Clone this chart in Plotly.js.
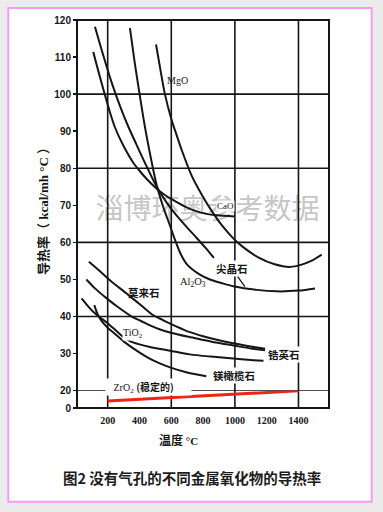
<!DOCTYPE html>
<html><head><meta charset="utf-8">
<script src="https://cdn.plot.ly/plotly-3.0.1.min.js"></script>
<style>html,body{margin:0;padding:0;background:#ebebeb;overflow:hidden}#chart{width:383px;height:512px}</style>
</head><body><div id="chart"></div>
<script>
// ---- data (temperature °C, conductivity kcal/mh°C) ----
const xTickVals = [200, 400, 600, 800, 1000, 1200, 1400];
const yTickVals = [20, 30, 40, 50, 60, 70, 80, 90, 100, 110, 120];
const gridX = [200, 600, 1000, 1400];
const gridY = [20, 40, 60, 80, 100];

const mgoT = [504, 530, 560, 602, 623, 665, 728, 790, 854, 920, 990, 1050, 1150, 1250, 1346, 1420, 1480, 1546];
const mgoK = [113.4, 107, 100, 93, 90.3, 85, 78, 73, 68.5, 64.5, 61.1, 58.8, 55.9, 54.1, 53.4, 54, 55, 56.7];

const caoT = [109, 145, 180, 215, 246, 300, 361, 403, 450, 508, 560, 613, 680, 738, 820, 885, 1000];
const caoK = [111.4, 105.6, 100.2, 95, 91, 86, 81.5, 79.2, 76.9, 74.5, 72.8, 71.4, 69.8, 68.7, 67.7, 67.3, 67];

const spinelT = [120, 172, 230, 280, 330, 380, 445, 508, 570, 634, 700, 760, 820, 868];
const spinelK = [118.2, 110.5, 102.5, 96.5, 91.2, 86.5, 80.5, 75, 70.8, 67.2, 64, 61.2, 58.3, 55.8];

const al2o3T = [340, 370, 399, 423, 450, 508, 550, 592, 625, 660, 700, 780, 843, 920, 990, 1137, 1263, 1400, 1504];
const al2o3K = [117.8, 108.5, 100.5, 94, 87.5, 75.5, 69.5, 64.5, 60.5, 56.8, 54, 51.3, 50, 49, 48.2, 47.2, 46.8, 47, 47.6];

const mulliteT = [82, 150, 214, 319, 400, 475, 550, 634, 717, 800, 900, 990, 1100, 1190];
const mulliteK = [54.8, 52.3, 49.8, 46.2, 43.4, 40.7, 39, 37.3, 35.8, 34.7, 33.6, 32.8, 31.9, 31.3];

const zirconT = [66, 120, 194, 260, 351, 410, 466, 530, 592, 700, 780, 880, 990, 1100, 1190];
const zirconK = [50, 47.6, 44.9, 42.7, 40, 38.8, 37.6, 36.5, 35.7, 34.6, 33.9, 33, 32.2, 31.4, 30.9];

const tio2T = [36, 80, 109, 150, 194, 250, 298, 340, 400, 466, 592, 717, 850, 990, 1100, 1180];
const tio2K = [44.9, 42.6, 41.3, 39.8, 38.4, 36.3, 34.5, 33.4, 32.5, 31.8, 30.8, 29.8, 29.2, 28.7, 28.3, 28.1];

const forsteriteT = [116, 135, 160, 200, 246, 300, 382, 450, 520, 592, 700, 820];
const forsteriteK = [43.1, 40.8, 38.9, 37, 35.3, 33.3, 30.8, 29, 27.5, 26.3, 24.9, 23.9];

const zro2T = [200, 1400];
const zro2K = [8.1, 19.8];

// ---- traces ----
const black = '#161616';
function curve(name, t, k) {
  return {type: 'scatter', mode: 'lines', name: name, x: t, y: k, xaxis: 'x', yaxis: 'y',
    line: {color: black, width: 2, shape: 'spline', smoothing: 0.8}, hoverinfo: 'skip'};
}
const traces = [
  curve('MgO', mgoT, mgoK),
  curve('CaO', caoT, caoK),
  curve('尖晶石', spinelT, spinelK),
  curve('Al2O3', al2o3T, al2o3K),
  curve('莫来石', mulliteT, mulliteK),
  curve('锆英石', zirconT, zirconK),
  curve('TiO2', tio2T, tio2K),
  curve('镁橄榄石', forsteriteT, forsteriteK),
  {type: 'scatter', mode: 'lines', name: 'ZrO2', x: zro2T, y: zro2K, xaxis: 'x', yaxis: 'y2',
   line: {color: 'rgb(238,36,22)', width: 3}, hoverinfo: 'skip'}
];

// ---- geometry helpers (paper coords) ----
const L = 77, R = 54, T = 20, B = 104, W = 383, H = 512;
const PW = W - L - R, PH = H - T - B;
const px = p => (p - L) / PW;
const py = p => (H - B - p) / PH;
const splitFrac = 17.3 / PH;

const shapes = [];
shapes.push({type: 'rect', xref: 'paper', yref: 'paper', x0: px(8.3), x1: px(371.7), y0: py(501.7), y1: py(8),
  fillcolor: '#ffffff', line: {color: '#f59cf2', width: 2}, layer: 'below'});
shapes.push({type: 'rect', xref: 'paper', yref: 'paper', x0: px(80), x1: px(335), y0: py(226), y1: py(196),
  line: {width: 0}, fillcolor: 'rgba(0,0,0,0)', layer: 'below',
  label: {text: '淄博环奥参考数据', font: {family: 'Noto Sans CJK SC', size: 28, color: '#c6c6c6'}, textposition: 'middle center'}});
gridX.forEach(g => shapes.push({type: 'line', xref: 'x', yref: 'paper', x0: g, x1: g, y0: 0, y1: 1,
  line: {color: black, width: 1.6}, layer: 'below'}));
gridY.forEach(g => shapes.push({type: 'line', xref: 'paper', yref: 'y', x0: 0, x1: 1, y0: g, y1: g,
  line: {color: black, width: 1.6}, layer: 'below'}));
shapes.push({type: 'rect', xref: 'paper', yref: 'paper', x0: 0, x1: 1, y0: 0, y1: 1,
  line: {color: black, width: 2}, layer: 'above'});

const serif = 'Liberation Serif, Noto Sans CJK SC';
const cjk = 'Noto Sans CJK SC';
function lab(text, x, y, fam, size, weight, extra) {
  return Object.assign({xref: 'x', yref: 'y', x: x, y: y, text: text, showarrow: false,
    xanchor: 'center', yanchor: 'middle',
    font: {family: fam, size: size, color: black, weight: weight || 'normal'}}, extra || {});
}
const annotations = [
  lab('MgO', 642, 103.8, serif, 10),
  lab('CaO', 938, 69.8, serif, 9, 'normal', {bgcolor: '#ffffff', borderpad: 0}),
  lab('尖晶石', 1063, 48.05, cjk, 10.5, 'bold', {showarrow: true, arrowhead: 0, arrowwidth: 1.3, arrowcolor: black,
     ax: -13, ay: -18, bgcolor: '#ffffff', borderpad: 0}),
  lab('Al<sub>2</sub>O<sub>3</sub>', 736, 49.2, serif, 10.5),
  lab('莫来石', 428, 46.6, cjk, 10.5, 'bold'),
  lab('TiO<sub>2</sub>', 359, 35.3, serif, 10, 'normal', {bgcolor: '#ffffff', borderpad: 0}),
  lab('锆英石', 1309, 29.9, cjk, 10.5, 'bold', {bgcolor: '#ffffff', borderpad: 0}),
  lab('镁橄榄石', 994, 24.2, cjk, 10.5, 'bold', {bgcolor: '#ffffff', borderpad: 0}),
  lab('\u00a0\u00a0\u00a0ZrO<sub>2</sub> <span style="font-family:Noto Sans CJK SC;font-weight:bold">(稳定的)</span>\u00a0\u00a0\u00a0\u00a0\u00a0\u00a0\u00a0',
      455, 21.1, serif, 10, 'normal', {bgcolor: '#ffffff', borderpad: 0}),
  {xref: 'paper', yref: 'paper', x: px(43), y: py(208), xanchor: 'center', yanchor: 'middle', textangle: -90, showarrow: false,
   text: '导热率（ kcal/mh °C ）', font: {family: serif, size: 13, color: black, weight: 'bold'}},
  {xref: 'paper', yref: 'paper', x: px(178), y: py(439), xanchor: 'center', yanchor: 'middle', showarrow: false,
   text: '温度 <span style="font-family:Liberation Serif;font-size:11px">°C</span>', font: {family: cjk, size: 12, color: black, weight: 'bold'}},
  {xref: 'paper', yref: 'paper', x: px(192), y: py(477), xanchor: 'center', yanchor: 'middle', showarrow: false,
   text: '图2 没有气孔的不同金属氧化物的导热率', font: {family: cjk, size: 14.5, color: '#1c1c1c', weight: 'bold'}}
];

const layout = {
  width: W, height: H, margin: {l: L, r: R, t: T, b: B, pad: 0},
  paper_bgcolor: '#ebebeb', plot_bgcolor: 'rgba(0,0,0,0)', showlegend: false,
  xaxis: {range: [7, 1592], anchor: 'y2', tickmode: 'array', tickvals: xTickVals,
    ticks: '', showgrid: false, zeroline: false, showline: false, ticklabelstandoff: 5,
    tickfont: {family: 'Liberation Serif', size: 10, color: black, weight: 'bold'}},
  yaxis: {domain: [splitFrac, 1], range: [20, 120], tickmode: 'array', tickvals: yTickVals,
    ticks: 'outside', ticklen: 3, tickwidth: 1.5, tickcolor: black, showgrid: false, zeroline: false, showline: false,
    tickfont: {family: 'Liberation Sans', size: 10, color: black, weight: 'bold'}},
  yaxis2: {domain: [0, splitFrac], range: [0, 20], tickmode: 'array', tickvals: [0],
    ticks: 'outside', ticklen: 3, tickwidth: 1.5, tickcolor: black, showgrid: false, zeroline: false, showline: false,
    tickfont: {family: 'Liberation Sans', size: 10, color: black, weight: 'bold'}},
  shapes: shapes, annotations: annotations
};
Plotly.newPlot('chart', traces, layout, {displayModeBar: false, staticPlot: true});
</script></body></html>
